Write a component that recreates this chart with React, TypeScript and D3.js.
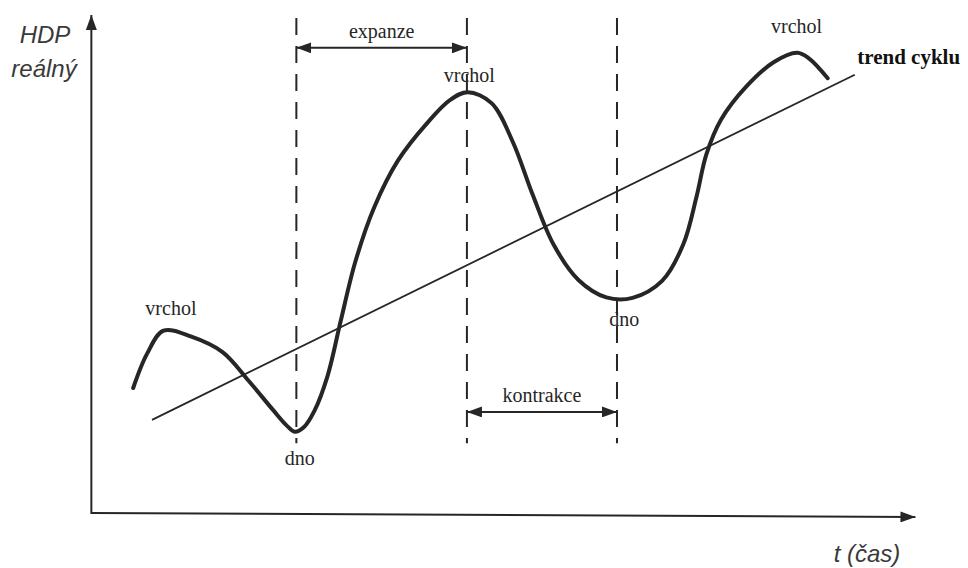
import React from "react";
import * as d3 from "d3";

// time axis 0..100, HDP 0..100 (abstract units)
const cycleT = [4.9, 6.6, 8.6, 12.0, 15.8, 19.0, 22.0, 23.6, 24.6, 25.7, 27.0, 28.6, 30.2, 32.0, 34.3, 37.2, 40.8, 43.6, 45.7, 48.6, 51.2, 53.6, 56.2, 59.2, 62.6, 65.8, 69.4, 72.0, 73.6, 74.8, 76.6, 79.6, 83.0, 85.9, 87.3, 89.6];
const cycleV = [25.1, 32.0, 36.6, 35.4, 32.3, 26.5, 20.6, 17.6, 16.3, 17.2, 20.5, 27.5, 38.5, 50.5, 61.4, 70.8, 78.4, 83.0, 84.5, 82.3, 74.5, 64.0, 53.8, 46.8, 43.3, 43.2, 46.6, 54.0, 63.5, 72.0, 79.0, 85.5, 90.5, 92.4, 91.3, 87.3];

const trendT = [7.2, 92.9];
const trendV = [18.7, 88.0];

// turning points marked with dashed verticals
const markerT = [24.8, 45.6, 63.9];
const markerTop = 99.4;
const markerBottom = 14;

const phaseLabels = ["expanze", "kontrakce"];
const phaseFrom = [24.8, 45.6];
const phaseTo = [45.6, 63.9];
const phaseV = [93.4, 20.3];

const pointLabels = ["vrchol", "dno", "vrchol", "dno", "vrchol"];
const pointT = [9.5, 25.2, 45.9, 64.8, 85.8];
const pointV = [39.7, 9.6, 86.5, 37.6, 96.4];

const W = 968;
const H = 568;
const ink = "#262626";
const serif = "'Liberation Serif', 'Times New Roman', serif";
const sans = "'Liberation Sans', Arial, sans-serif";

export default function App() {
  const x = d3.scaleLinear().domain([0, 100]).range([93, 913]);
  const y = d3.scaleLinear().domain([0, 100]).range([513, 15]);

  const cycle = cycleT.map((t, i) => [t, cycleV[i]] as [number, number]);
  const line = d3
    .line<[number, number]>()
    .x((d) => x(d[0]))
    .y((d) => y(d[1]))
    .curve(d3.curveCatmullRom.alpha(0.5));

  return (
    <svg
      width={W}
      height={H}
      style={{ position: "absolute", left: 0, top: 0, background: "#fff" }}
    >
      <defs>
        <marker
          id="head"
          markerUnits="userSpaceOnUse"
          markerWidth={15}
          markerHeight={11}
          refX={15}
          refY={5.5}
          orient="auto-start-reverse"
        >
          <path d="M0,0 L15,5.5 L0,11 Z" fill={ink} />
        </marker>
      </defs>

      {/* axes */}
      <line
        x1={x(-0.2)}
        y1={y(0) + 1}
        x2={x(-0.2)}
        y2={y(100)}
        stroke={ink}
        strokeWidth={2}
        markerEnd="url(#head)"
      />
      <line
        x1={x(-0.2)}
        y1={y(0)}
        x2={x(100.3)}
        y2={y(-0.8)}
        stroke={ink}
        strokeWidth={2}
        markerEnd="url(#head)"
      />
      <text x={45} y={43} fontFamily={sans} fontStyle="italic" fontSize={24} textAnchor="middle" fill="#3a3a3a">
        HDP
      </text>
      <text x={44} y={77} fontFamily={sans} fontStyle="italic" fontSize={24} textAnchor="middle" fill="#3a3a3a">
        reálný
      </text>
      <text x={867} y={562} fontFamily={sans} fontStyle="italic" fontSize={24} textAnchor="middle" fill="#3a3a3a">
        t (čas)
      </text>

      {/* dashed turning-point lines */}
      {markerT.map((t, i) => (
        <line
          key={"m" + i}
          x1={x(t)}
          x2={x(t)}
          y1={y(markerTop)}
          y2={y(markerBottom)}
          stroke={ink}
          strokeWidth={2}
          strokeDasharray="17 11"
        />
      ))}

      {/* trend */}
      <line
        x1={x(trendT[0])}
        y1={y(trendV[0])}
        x2={x(trendT[1])}
        y2={y(trendV[1])}
        stroke={ink}
        strokeWidth={1.8}
      />

      {/* business cycle */}
      <path
        d={line(cycle) ?? ""}
        fill="none"
        stroke={ink}
        strokeWidth={4}
        strokeLinecap="round"
        strokeLinejoin="round"
      />

      {/* phases */}
      {phaseLabels.map((lab, i) => (
        <g key={lab}>
          <line
            x1={x(phaseFrom[i])}
            x2={x(phaseTo[i])}
            y1={y(phaseV[i])}
            y2={y(phaseV[i])}
            stroke={ink}
            strokeWidth={2}
            markerStart="url(#head)"
            markerEnd="url(#head)"
          />
          <text
            x={(x(phaseFrom[i]) + x(phaseTo[i])) / 2}
            y={y(phaseV[i]) - 10}
            fontFamily={serif}
            fontSize={20}
            textAnchor="middle"
            fill={ink}
          >
            {lab}
          </text>
        </g>
      ))}

      {pointLabels.map((lab, i) => (
        <text
          key={"p" + i}
          x={x(pointT[i])}
          y={y(pointV[i])}
          fontFamily={serif}
          fontSize={20}
          textAnchor="middle"
          fill={ink}
        >
          {lab}
        </text>
      ))}

      <text
        x={x(93.2)}
        y={y(90.2)}
        fontFamily={serif}
        fontSize={21}
        fontWeight="bold"
        fill="#111"
      >
        trend cyklu
      </text>
    </svg>
  );
}
